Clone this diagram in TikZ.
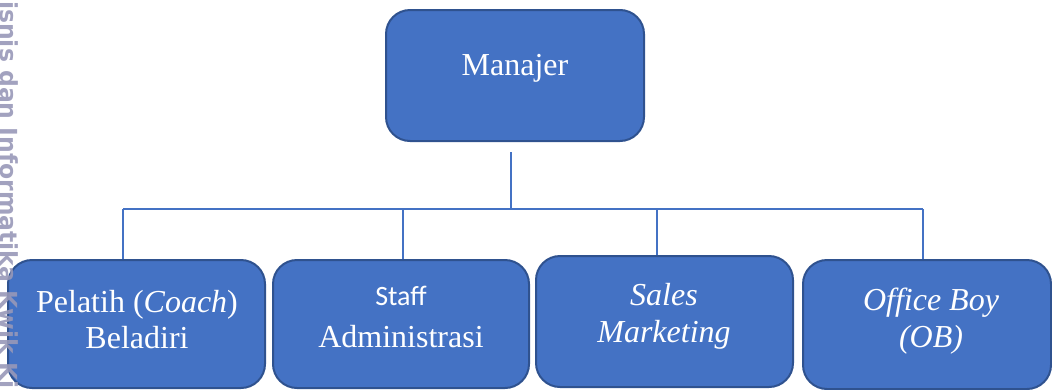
\documentclass[tikz,border=0pt]{standalone}
\usepackage{fontspec}
\setmainfont{Liberation Serif}
\newfontfamily\calib{Carlito}
\newfontfamily\wmfont{DejaVu Sans}
\definecolor{boxfill}{HTML}{4472C4}
\definecolor{boxline}{HTML}{2F528F}
\definecolor{wmgrey}{RGB}{152,152,184}
\begin{document}
\begin{tikzpicture}[x=1pt,y=-1pt,
  orgbox/.style={draw=boxline, fill=boxfill, line width=2pt,
    rounded corners=24pt, inner sep=0pt},
  conn/.style={draw=boxfill, line width=1.1pt},
  lbl/.style={anchor=base, text=white, inner sep=0pt,
    font=\fontsize{32}{36}\selectfont},
  lblsans/.style={anchor=base, text=white, inner sep=0pt,
    font=\calib\fontsize{28}{34}\selectfont}]
  \useasboundingbox (0,0) rectangle (1052,389);
  \begin{scope}
  \clip (0,0) rectangle (1052,389);

  % boxes
  \node[orgbox, minimum width=258pt, minimum height=131pt] (mgr) at (515,75.5) {};
  \node[orgbox, minimum width=257pt, minimum height=128pt] (b1) at (136.5,324) {};
  \node[orgbox, minimum width=256pt, minimum height=128pt] (b2) at (401,324) {};
  \node[orgbox, minimum width=257pt, minimum height=131pt] (b3) at (664.5,321.5) {};
  \node[orgbox, minimum width=248pt, minimum height=129pt] (b4) at (927,324.5) {};

  % texts
  \node[lbl] (mgrT) at (515,75) {Manajer};
  \node[lbl] (b1a) at (137,312) {Pelatih (\textit{Coach})};
  \node[lbl] (b1b) at (137,348) {Beladiri};
  \node[lblsans] (b2a) at (401,305) {Staff};
  \node[lbl] (b2b) at (401,347) {Administrasi};
  \node[lbl] (b3a) at (664,305) {\textit{Sales}};
  \node[lbl] (b3b) at (664,342) {\textit{Marketing}};
  \node[lbl] (b4a) at (931,310) {\textit{Office Boy}};
  \node[lbl] (b4b) at (931,347) {\textit{(OB)}};

  % connectors
  \coordinate (stem) at (511,152);
  \coordinate (bus) at (511,209);
  \coordinate (j1) at (123,209);
  \coordinate (j2) at (403,209);
  \coordinate (j3) at (657,209);
  \coordinate (j4) at (923,209);
  \draw[conn] (stem) -- (bus);
  \draw[conn] (j1) -- (j4);
  \draw[conn] (j1) -- (j1 |- b1.north);
  \draw[conn] (j2) -- (j2 |- b2.north);
  \draw[conn] (j3) -- (j3 |- b3.north);
  \draw[conn] (j4) -- (j4 |- b4.north);

  % vertical watermark along the left edge
  \node[anchor=base west, rotate=-90, inner sep=0pt, text=wmgrey,
    opacity=0.9, font=\wmfont\bfseries\fontsize{23.5}{24}\selectfont]
    (wm) at (1,1) {isnis dan Informatika Kwik Ki};
  \end{scope}
\end{tikzpicture}
\end{document}
